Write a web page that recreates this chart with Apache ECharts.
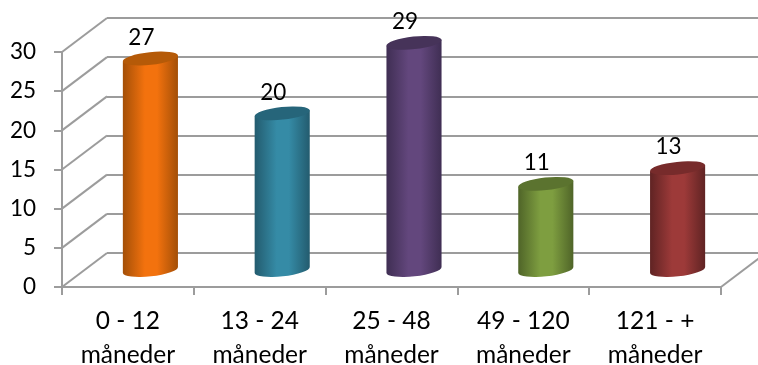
<!DOCTYPE html>
<html>
<head>
<meta charset="utf-8">
<style>html,body{margin:0;padding:0;background:#fff}#chart{width:758px;height:365px}</style>
<script src="https://cdn.jsdelivr.net/npm/echarts@6/dist/echarts.min.js"></script>
</head>
<body>
<div id="chart"></div>
<script>
const categories = ['0 - 12\nmåneder', '13 - 24\nmåneder', '25 - 48\nmåneder', '49 - 120\nmåneder', '121 - +\nmåneder'];
const values = [27, 20, 29, 11, 13];
const yTicks = [0, 5, 10, 15, 20, 25, 30];

// edge, centre and lid shades of each cylinder
const edgeColors = ['#a34f07', '#235b6e', '#3f2e53', '#4f6428', '#5f2323'];
const midColors = ['#f3720e', '#358ba6', '#63477d', '#7e9e40', '#9d3a39'];
const lidColors = ['#b55a08', '#26657a', '#463359', '#5b732f', '#772b2b'];

const FONT = 'Lato, Carlito, sans-serif';
const AXIS = '#9c9c9c';
// shift from the front plane to the back wall of the 3D box
const DEPTH_X = 45, DEPTH_Y = -34;
const TILT = 6.2 * Math.PI / 180;

function cylinder(params, api) {
  const i = api.value(0);
  const base = api.coord([i, 0]);
  const top = api.coord([i, api.value(1)]);
  const slot = api.size([1, 0])[0];
  const hw = slot * 0.209;
  const cx = base[0] + DEPTH_X / 2;
  const yBase = base[1] + DEPTH_Y / 2;
  const yTop = top[1] + DEPTH_Y / 2;
  const rise = hw * Math.tan(TILT);
  const rx = hw / Math.cos(TILT), ry = 6.3, rot = -TILT * 180 / Math.PI;
  const lx = cx - hw, rxPos = cx + hw;
  const arc = (x, y, sweep) => `A${rx} ${ry} ${rot} 0 ${sweep} ${x} ${y}`;
  const body = `M${lx} ${yTop + rise}L${lx} ${yBase + rise}` +
    arc(rxPos, yBase - rise, 0) + `L${rxPos} ${yTop - rise}Z`;
  const lid = `M${lx} ${yTop + rise}` + arc(rxPos, yTop - rise, 1) + arc(lx, yTop + rise, 1) + 'Z';
  return {
    type: 'group',
    children: [
      {
        type: 'path',
        shape: { pathData: body },
        style: {
          fill: {
            type: 'linear', x: 0, y: 0, x2: 1, y2: 0,
            colorStops: [
              { offset: 0, color: edgeColors[i] },
              { offset: 0.4, color: midColors[i] },
              { offset: 0.62, color: midColors[i] },
              { offset: 1, color: edgeColors[i] }
            ]
          }
        }
      },
      { type: 'path', shape: { pathData: lid }, style: { fill: lidColors[i] } },
      {
        type: 'text',
        style: {
          x: cx - 9, y: yTop - 21, text: String(api.value(1)),
          font: '22.5px ' + FONT, fill: '#000', align: 'center', verticalAlign: 'middle'
        }
      }
    ]
  };
}

// diagonal lines of the left side wall, one per tick
function sideLine(params, api) {
  const p = api.coord([0, api.value(0)]);
  const x = p[0] - api.size([1, 0])[0] / 2;
  return {
    type: 'line',
    shape: { x1: x, y1: p[1], x2: x + DEPTH_X, y2: p[1] + DEPTH_Y },
    style: { stroke: AXIS, lineWidth: 2 }
  };
}

// closing edge of the floor on the right
function floorEdge(params, api) {
  const p = api.coord([categories.length - 1, api.value(0)]);
  const x = p[0] + api.size([1, 0])[0] / 2;
  return {
    type: 'line',
    shape: { x1: x, y1: p[1], x2: x + DEPTH_X, y2: p[1] + DEPTH_Y },
    style: { stroke: AXIS, lineWidth: 2 }
  };
}

const chart = echarts.init(document.getElementById('chart'), null, { renderer: 'canvas' });
chart.setOption({
  animation: false,
  backgroundColor: '#fff',
  grid: [
    { left: 62, right: 37, top: 52, bottom: 78, outerBoundsMode: 'none' },
    { left: 107, right: -8, top: 18, bottom: 112, outerBoundsMode: 'none' }
  ],
  xAxis: [
    {
      type: 'category', gridIndex: 0, data: categories,
      axisLine: { lineStyle: { color: AXIS, width: 2 } },
      axisTick: { show: true, alignWithLabel: false, length: 8, lineStyle: { color: AXIS, width: 2 } },
      axisLabel: { interval: 0, color: '#000', fontFamily: FONT, fontSize: 24.5, lineHeight: 34, margin: 17 }
    },
    { type: 'category', gridIndex: 1, data: categories, show: false }
  ],
  yAxis: [
    {
      type: 'value', gridIndex: 0, min: 0, max: 30, interval: 5,
      axisLine: { show: true, lineStyle: { color: AXIS, width: 2 } },
      axisTick: { show: true, length: 8, lineStyle: { color: AXIS, width: 2 } },
      splitLine: { show: false },
      axisLabel: { color: '#000', fontFamily: FONT, fontSize: 22.5, margin: 26 }
    },
    {
      type: 'value', gridIndex: 1, min: 0, max: 30, interval: 5,
      axisLine: { show: false }, axisTick: { show: false }, axisLabel: { show: false },
      splitLine: { show: true, lineStyle: { color: AXIS, width: 2 } }
    }
  ],
  series: [
    {
      type: 'custom', xAxisIndex: 0, yAxisIndex: 0, clip: false, silent: true, z: 1,
      renderItem: sideLine, data: yTicks.map(t => [t])
    },
    {
      type: 'custom', xAxisIndex: 0, yAxisIndex: 0, clip: false, silent: true, z: 1,
      renderItem: floorEdge, data: [[yTicks[0]]]
    },
    {
      type: 'custom', xAxisIndex: 0, yAxisIndex: 0, clip: false, silent: true, z: 5,
      renderItem: cylinder, data: values.map((v, i) => [i, v])
    }
  ]
});
</script>
</body>
</html>
